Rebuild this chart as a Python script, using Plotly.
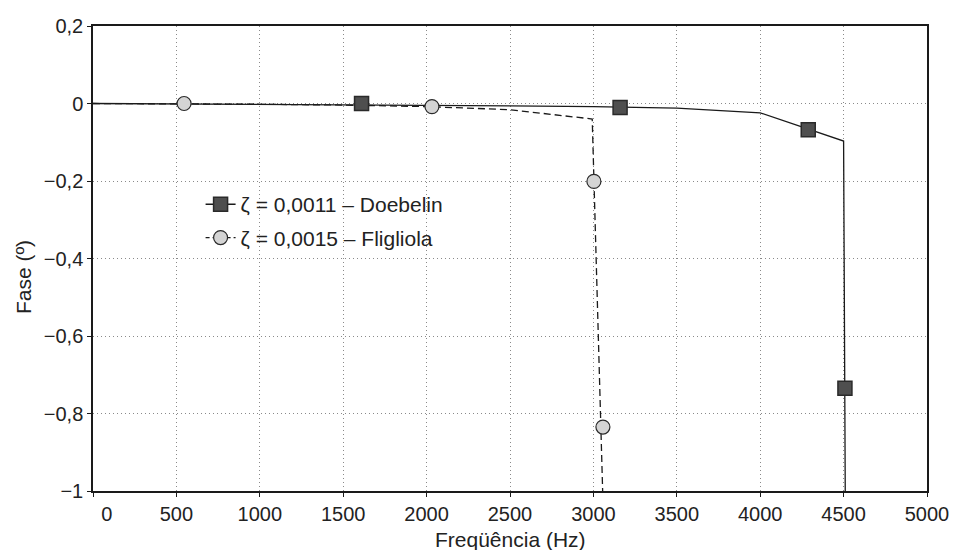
import plotly.graph_objects as go

# Doebelin (zeta = 0.0011) curve and markers
doe_line_f = [0, 500, 1000, 1500, 2000, 2500, 3000, 3500, 4000, 4500, 4512]
doe_line_phase = [0, -0.001, -0.002, -0.003, -0.004, -0.006, -0.008, -0.012, -0.024, -0.097, -1.2]
doe_mark_f = [1610, 3160, 4288, 4508]
doe_mark_phase = [0.0, -0.01, -0.068, -0.735]

# Figliola (zeta = 0.0015) curve and markers
fig_line_f = [0, 500, 1000, 1500, 2000, 2500, 2993, 3062]
fig_line_phase = [0, -0.0005, -0.002, -0.004, -0.008, -0.016, -0.04, -1.1]
fig_mark_f = [546, 2032, 3003, 3057]
fig_mark_phase = [0.0, -0.008, -0.201, -0.835]

x_ticks = [0, 500, 1000, 1500, 2000, 2500, 3000, 3500, 4000, 4500, 5000]
x_ticktext = ["\u00a0\u00a0\u00a0\u00a0\u00a00", "500", "1000", "1500", "2000", "2500",
              "3000", "3500", "4000", "4500", "5000"]
y_ticks = [0.2, 0, -0.2, -0.4, -0.6, -0.8, -1]
y_ticktext = ["0,2", "0", "\u22120,2", "\u22120,4", "\u22120,6", "\u22120,8", "\u22121"]

legend_doe = "\u03b6 = 0,0011 \u2013 Doebelin"
legend_fig = "\u03b6 = 0,0015 \u2013 Fligliola"

FONT = "Liberation Sans, Arial, sans-serif"
TXT = "#222222"

sq_marker = dict(symbol="square", size=14, color="#4f4f4f", line=dict(color="#2a2a2a", width=1.5))
ci_marker = dict(symbol="circle", size=14, color="#d4d4d4", line=dict(color="#2a2a2a", width=1.2))

fig = go.Figure()
fig.add_trace(go.Scatter(x=doe_line_f, y=doe_line_phase, mode="lines",
                         line=dict(color="#1a1a1a", width=1.3), showlegend=False, hoverinfo="skip"))
fig.add_trace(go.Scatter(x=fig_line_f, y=fig_line_phase, mode="lines",
                         line=dict(color="#1a1a1a", width=1.3, dash="7px,4px"),
                         showlegend=False, hoverinfo="skip"))
fig.add_trace(go.Scatter(x=doe_mark_f, y=doe_mark_phase, mode="markers", marker=sq_marker,
                         showlegend=False, cliponaxis=False))
fig.add_trace(go.Scatter(x=fig_mark_f, y=fig_mark_phase, mode="markers", marker=ci_marker,
                         showlegend=False, cliponaxis=False))
# legend entries
fig.add_trace(go.Scatter(x=[None], y=[None], mode="lines+markers", name=legend_doe,
                         legendgroup="a", marker=sq_marker, line=dict(color="#1a1a1a", width=1.3)))
fig.add_trace(go.Scatter(x=[None], y=[None], mode="lines+markers", name=legend_fig,
                         legendgroup="b", marker=ci_marker,
                         line=dict(color="#1a1a1a", width=1.3, dash="4px,3px")))

axis_common = dict(
    showline=True, linecolor="#1a1a1a", linewidth=1.5, mirror=True,
    showgrid=True, gridcolor="#8a8a8a", gridwidth=1, griddash="1px,3px",
    ticks="outside", ticklen=4, tickcolor="#1a1a1a", zeroline=False, automargin=False,
    tickfont=dict(size=20, color=TXT, family=FONT),
)

fig.update_layout(
    width=953, height=550,
    margin=dict(l=93, r=26, t=26, b=59, autoexpand=False),
    paper_bgcolor="white", plot_bgcolor="white",
    font=dict(family=FONT, size=20, color=TXT),
    xaxis=dict(range=[0, 5000], tickmode="array", tickvals=x_ticks, ticktext=x_ticktext,
               **axis_common),
    yaxis=dict(range=[-1, 0.2], tickmode="array", tickvals=y_ticks, ticktext=y_ticktext,
               **axis_common),
    legend=dict(x=0.129, y=0.66, xanchor="left", yanchor="top", bgcolor="rgba(0,0,0,0)",
                font=dict(size=21, color=TXT, family=FONT), tracegroupgap=3),
    showlegend=True,
    annotations=[
        dict(text="Freqüência (Hz)", xref="paper", yref="paper", x=0.5, y=0,
             yshift=-48, xanchor="center", yanchor="middle", showarrow=False,
             font=dict(size=21, color=TXT, family=FONT)),
        dict(text="Fase (º)", xref="paper", yref="paper", x=0, y=0.46,
             xshift=-70, xanchor="center", yanchor="middle", textangle=-90, showarrow=False,
             font=dict(size=21, color=TXT, family=FONT)),
    ],
)

# remove the default 8px body margin so the 953x550 figure fills the window exactly
fig.write_html("out.html", config={"displayModeBar": False},
               post_script="document.body.style.margin='0';")
